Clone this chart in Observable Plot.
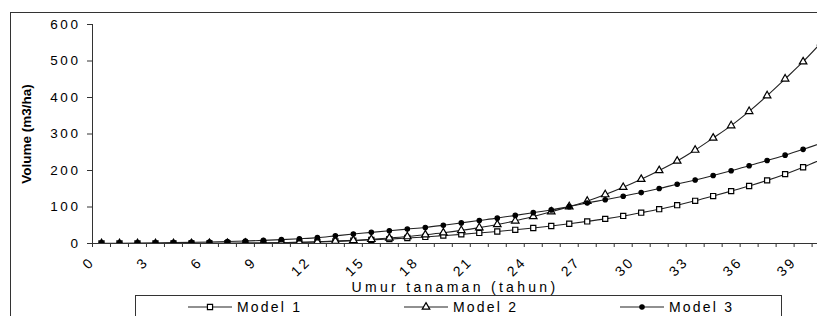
<!DOCTYPE html>
<html>
<head>
<meta charset="utf-8">
<script src="https://cdn.jsdelivr.net/npm/d3@7"></script>
<script src="https://cdn.jsdelivr.net/npm/@observablehq/plot@0.6"></script>
<style>
html, body { margin: 0; padding: 0; background: #fff; overflow: hidden; }
#wrap { position: relative; width: 817px; height: 316px; overflow: hidden; font-family: "Liberation Sans", Arial, sans-serif; }
#chart { position: absolute; left: 0; top: 0; }
#frame { position: absolute; left: 10px; top: 12px; width: 900px; height: 400px; border-left: 1px solid #333; border-top: 1px solid #333; pointer-events: none; }
#legend { position: absolute; left: 135px; top: 295px; width: 645px; height: 40px; border: 1px solid #333; background: #fff; }
.item { position: absolute; top: 3px; height: 16px; display: flex; align-items: center; font-size: 14px; letter-spacing: 2.2px; color: #000; white-space: nowrap; }
.item svg { margin-right: 5px; }
g[aria-label="y-axis tick label"] text { letter-spacing: 2.6px; }
g[aria-label="x-axis tick label"] text { letter-spacing: 2.6px; }
g[aria-label="x-axis label"] text { letter-spacing: 3.3px; }
g[aria-label="y-axis label"] text { font-weight: bold; }
</style>
</head>
<body>
<div id="wrap">
  <div id="chart"></div>
  <div id="frame"></div>
  <div id="legend"></div>
</div>
<script>
// Category years (1..41); each point sits in the middle of its category
const years = [1,2,3,4,5,6,7,8,9,10,11,12,13,14,15,16,17,18,19,20,21,22,23,24,25,26,27,28,29,30,31,32,33,34,35,36,37,38,39,40,41];

const model1 = [0,0,0.1,0.1,0.2,0.3,0.4,0.6,1.0,1.5,2.2,3.2,4.4,5.9,7.7,9.8,12.2,15,18,21.5,25,29,33,37.5,42.5,48,54,60.5,67.5,75.5,84.5,94,105,117,130,143.5,157.5,173,190,209,230];
const model2 = [0,0,0,0,0.1,0.15,0.3,0.5,0.9,1.4,2.2,3.2,4.6,6.4,8.7,11.5,15,19,24,29.5,36,43.5,52,62,74,87,101,116,134,154,176,200,226,256,289,323,362,405,451,498,550];
const model3 = [0.5,0.8,1.2,1.7,2.4,3.2,4.2,5.4,6.8,8.5,10.5,13,16,21,26,30.5,35,39.5,44,50,56.5,63,69.5,77,84.5,92,101,111,120,129.5,139.5,150.5,162.5,174,186.5,199.5,213,227.5,242,258,275];

const seriesNames = ["Model 1", "Model 2", "Model 3"];
const seriesSymbols = ["square", "triangle", "circle"];
const seriesFills = ["white", "white", "black"];
const seriesRadius = [2.9, 2.8, 2.2];

const xTickLabels = [0,3,6,9,12,15,18,21,24,27,30,33,36,39];
const xMinorTicks = [0,1,2,3,4,5,6,7,8,9,10,11,12,13,14,15,16,17,18,19,20,21,22,23,24,25,26,27,28,29,30,31,32,33,34,35,36,37,38,39,40];
const yTicks = [0,100,200,300,400,500,600];

const allValues = [model1, model2, model3];
const table = allValues.map((vals, s) =>
  years.map((yr, i) => ({ umur: yr - 0.5, volume: vals[i], model: seriesNames[s] }))
);

const marks = [
  Plot.axisY({ ticks: yTicks, tickSize: 5, tickPadding: 7, stroke: "#333", fontSize: 13.5,
    label: "Volume (m3/ha)", labelArrow: "none", labelAnchor: "center", labelOffset: 71 }),
  Plot.axisX({ ticks: xMinorTicks, tickSize: 4, tickFormat: () => "", stroke: "#333", label: null }),
  Plot.axisX({ ticks: xTickLabels, tickSize: 0, tickRotate: -45, tickPadding: 16, fontSize: 14,
    label: "Umur tanaman (tahun)", labelArrow: "none", labelAnchor: "center", labelOffset: 48 }),
  Plot.frame({ anchor: "left", stroke: "#333" }),
  Plot.frame({ anchor: "bottom", stroke: "#333" })
];

table.forEach((rows, s) => {
  marks.push(Plot.line(rows, { x: "umur", y: "volume", curve: "catmull-rom", stroke: "#222", strokeWidth: 1.1, clip: true }));
});
table.forEach((rows, s) => {
  marks.push(Plot.dot(rows, { x: "umur", y: "volume", symbol: () => seriesSymbols[s], r: seriesRadius[s],
    fill: seriesFills[s], stroke: "#000", strokeWidth: 1.2, clip: true }));
});

const chart = Plot.plot({
  width: 817,
  height: 293,
  marginLeft: 92,
  marginRight: 0,
  marginTop: 24,
  marginBottom: 50,
  style: { fontFamily: "Liberation Sans, Arial, sans-serif", fontSize: "14px", color: "#000", background: "transparent", overflow: "visible" },
  x: { domain: [0, 40.3] },
  y: { domain: [0, 600] },
  symbol: { domain: seriesSymbols, range: seriesSymbols },
  marks
});
document.getElementById("chart").appendChild(chart);

// Legend below the plot
const legend = document.getElementById("legend");
const d3Symbols = { square: d3.symbolSquare, triangle: d3.symbolTriangle, circle: d3.symbolCircle };
seriesNames.forEach((name, s) => {
  const item = document.createElement("div");
  item.className = "item";
  item.style.left = (52 + s * 216) + "px";
  const ns = "http://www.w3.org/2000/svg";
  const svg = document.createElementNS(ns, "svg");
  svg.setAttribute("width", 44);
  svg.setAttribute("height", 12);
  const line = document.createElementNS(ns, "line");
  line.setAttribute("x1", 0); line.setAttribute("x2", 44);
  line.setAttribute("y1", 6); line.setAttribute("y2", 6);
  line.setAttribute("stroke", "#222"); line.setAttribute("stroke-width", 1.1);
  svg.appendChild(line);
  const path = document.createElementNS(ns, "path");
  const r = seriesRadius[s];
  path.setAttribute("d", d3.symbol(d3Symbols[seriesSymbols[s]], Math.PI * r * r)());
  path.setAttribute("transform", "translate(22,6)");
  path.setAttribute("fill", seriesFills[s]);
  path.setAttribute("stroke", "#000");
  path.setAttribute("stroke-width", 1.2);
  svg.appendChild(path);
  item.appendChild(svg);
  const span = document.createElement("span");
  span.textContent = name;
  item.appendChild(span);
  legend.appendChild(item);
});
</script>
</body>
</html>
